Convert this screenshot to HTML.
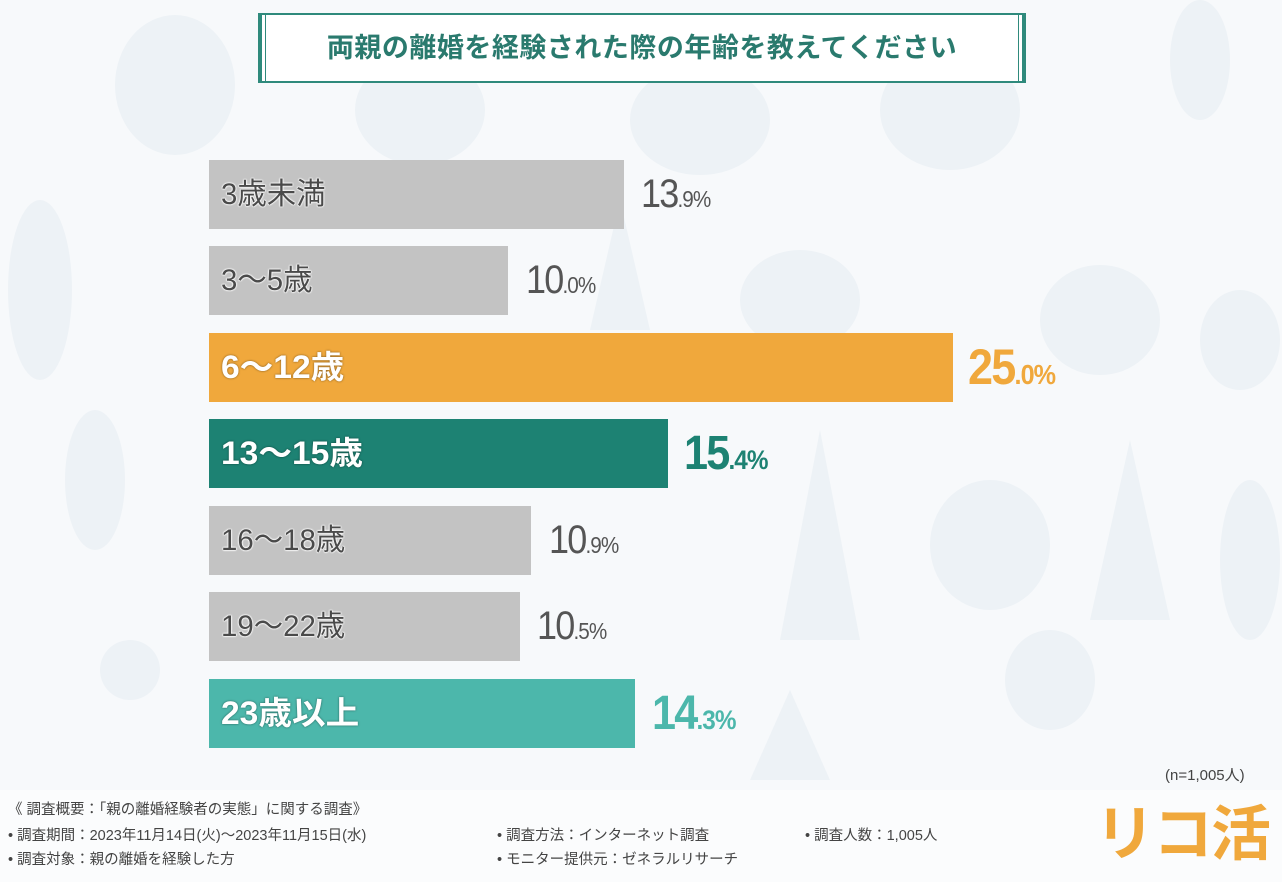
<!DOCTYPE html>
<html><head><meta charset="utf-8"><style>
body{margin:0;width:1282px;height:882px;overflow:hidden;background:#f7f9fb;font-family:"Liberation Sans","Noto Sans CJK JP",sans-serif;position:relative}
.bg{position:absolute;left:0;top:0}
.title{position:absolute;left:258px;top:13px;width:760px;height:66px;border:2px solid #2f8a7c;border-left-width:4px;border-right-width:4px;background:#fff;box-sizing:content-box}
.title div{position:absolute;left:3px;right:3px;top:0;bottom:0;border-left:1px solid #2f8a7c;border-right:1px solid #2f8a7c;text-align:center;line-height:66px;font-size:27px;font-weight:bold;color:#2a7a6e;letter-spacing:0.5px}
.bar{position:absolute;left:209px;height:69px}
.lab{position:absolute;left:221px;font-size:30px;line-height:69px;transform:scaleX(0.98);transform-origin:left}
.g{color:#4a4a4a;text-shadow:0 0 2px #fff,0 0 2px #fff,0 0 2px #fff,0 0 1px #fff}
.w{color:#fff;font-weight:bold;font-size:32px;text-shadow:0 0 2px rgba(0,0,0,.5);transform:scaleX(1.05)}
.val{position:absolute;line-height:69px;transform:scaleX(0.9);transform-origin:left;letter-spacing:-2px}
.val span{font-size:23px;letter-spacing:-1px}
.foot{position:absolute;left:8px;font-size:14.5px;color:#444;line-height:20px}
</style></head><body>
<svg class="bg" width="1282" height="882">
<g fill="#edf2f6">
<ellipse cx="40" cy="290" rx="32" ry="90"/><ellipse cx="175" cy="85" rx="60" ry="70"/><ellipse cx="420" cy="110" rx="65" ry="55"/><ellipse cx="700" cy="120" rx="70" ry="55"/><ellipse cx="950" cy="110" rx="70" ry="60"/>
<ellipse cx="1100" cy="320" rx="60" ry="55"/><ellipse cx="800" cy="300" rx="60" ry="50"/><ellipse cx="1240" cy="340" rx="40" ry="50"/><ellipse cx="990" cy="545" rx="60" ry="65"/><ellipse cx="1250" cy="560" rx="30" ry="80"/>
<ellipse cx="95" cy="480" rx="30" ry="70"/><polygon points="820,430 780,640 860,640"/><polygon points="1130,440 1090,620 1170,620"/><polygon points="620,200 590,330 650,330"/>
<ellipse cx="130" cy="670" rx="30" ry="30"/><ellipse cx="1200" cy="60" rx="30" ry="60"/><ellipse cx="1050" cy="680" rx="45" ry="50"/><polygon points="790,690 750,780 830,780"/>
</g>
<rect x="0" y="790" width="1282" height="92" fill="#fbfcfd"/>
</svg>
<div class="title"><div>両親の離婚を経験された際の年齢を教えてください</div></div>

<div class="bar" style="top:160px;width:415px;background:#c3c3c3"></div>
<div class="lab g" style="top:160px">3歳未満</div>
<div class="val" style="top:160px;left:641px;font-size:40px;color:#555">13<span>.9%</span></div>

<div class="bar" style="top:246px;width:299px;background:#c3c3c3"></div>
<div class="lab g" style="top:246px">3～5歳</div>
<div class="val" style="top:246px;left:526px;font-size:40px;color:#555">10<span>.0%</span></div>

<div class="bar" style="top:333px;width:744px;background:#f0a83c"></div>
<div class="lab w" style="top:333px">6～12歳</div>
<div class="val" style="top:333px;left:968px;font-size:50px;color:#f0a83c;font-weight:bold">25<span style="font-size:28px">.0%</span></div>

<div class="bar" style="top:419px;width:459px;background:#1d8273"></div>
<div class="lab w" style="top:419px">13～15歳</div>
<div class="val" style="top:419px;left:684px;font-size:48px;color:#1d8273;font-weight:bold">15<span style="font-size:27px">.4%</span></div>

<div class="bar" style="top:506px;width:322px;background:#c3c3c3"></div>
<div class="lab g" style="top:506px">16～18歳</div>
<div class="val" style="top:506px;left:549px;font-size:40px;color:#555">10<span>.9%</span></div>

<div class="bar" style="top:592px;width:311px;background:#c3c3c3"></div>
<div class="lab g" style="top:592px">19～22歳</div>
<div class="val" style="top:592px;left:537px;font-size:40px;color:#555">10<span>.5%</span></div>

<div class="bar" style="top:679px;width:426px;background:#4cb7ab"></div>
<div class="lab w" style="top:679px">23歳以上</div>
<div class="val" style="top:679px;left:652px;font-size:48px;color:#4cb7ab;font-weight:bold">14<span style="font-size:27px">.3%</span></div>

<div style="position:absolute;left:1165px;top:764px;font-size:15px;color:#444">(n=1,005人)</div>
<div class="foot" style="top:800px">《 調査概要：「親の離婚経験者の実態」に関する調査》</div>
<div class="foot" style="top:826px">• 調査期間：2023年11月14日(火)～2023年11月15日(水)</div>
<div class="foot" style="top:850px">• 調査対象：親の離婚を経験した方</div>
<div class="foot" style="top:826px;left:497px">• 調査方法：インターネット調査</div>
<div class="foot" style="top:850px;left:497px">• モニター提供元：ゼネラルリサーチ</div>
<div class="foot" style="top:826px;left:805px">• 調査人数：1,005人</div>
<div style="position:absolute;left:1095px;top:800px;font-size:60px;font-weight:bold;color:#f0a83c;line-height:70px;letter-spacing:-2px">リコ活</div>
</body></html>
